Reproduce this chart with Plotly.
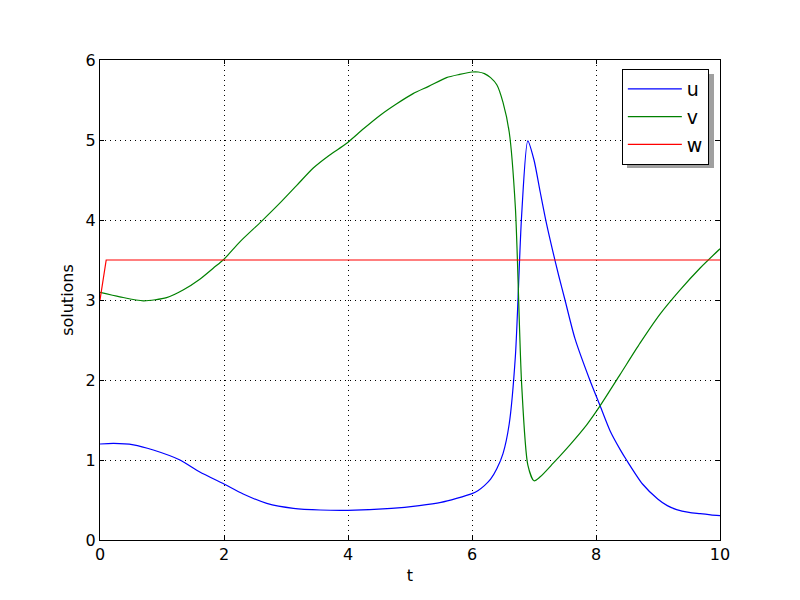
import plotly.graph_objects as go

t_u = [0.0, 0.22, 0.54, 0.86, 1.29, 1.61, 2.0, 2.31, 2.69, 3.12, 3.55, 4.0, 4.7, 5.15, 5.5, 5.75, 6.0, 6.1, 6.2, 6.3, 6.4, 6.5, 6.6, 6.7, 6.8, 6.9, 7.0, 7.1, 7.2, 7.3, 7.4, 7.5, 7.66, 7.9, 8.06, 8.23, 8.39, 8.5, 8.75, 9.0, 9.15, 9.3, 9.5, 9.68, 9.85, 10.0]
u = [1.20, 1.208, 1.19, 1.125, 1.00, 0.85, 0.70, 0.575, 0.458, 0.396, 0.375, 0.371, 0.395, 0.43, 0.47, 0.52, 0.58, 0.62, 0.68, 0.76, 0.89, 1.08, 1.45, 2.30, 4.05, 4.99, 4.75, 4.35, 3.96, 3.62, 3.30, 3.00, 2.52, 2.00, 1.69, 1.36, 1.13, 0.99, 0.70, 0.51, 0.43, 0.38, 0.345, 0.33, 0.315, 0.305]

t_v = [0.0, 0.32, 0.7, 1.075, 1.34, 1.61, 1.83, 2.0, 2.26, 2.6, 2.9, 3.17, 3.44, 3.7, 3.98, 4.25, 4.52, 4.78, 5.05, 5.3, 5.59, 5.8, 6.0, 6.1, 6.2, 6.3, 6.4, 6.5, 6.6, 6.7, 6.8, 6.9, 7.0, 7.1, 7.31, 7.58, 7.85, 8.06, 8.39, 8.71, 9.03, 9.35, 9.68, 10.0]
v = [3.096, 3.04, 2.99, 3.03, 3.125, 3.26, 3.40, 3.51, 3.73, 3.98, 4.21, 4.43, 4.65, 4.81, 4.96, 5.14, 5.31, 5.45, 5.58, 5.67, 5.78, 5.82, 5.85, 5.85, 5.83, 5.78, 5.69, 5.47, 5.10, 4.15, 1.96, 0.94, 0.74, 0.79, 0.96, 1.19, 1.44, 1.67, 2.07, 2.46, 2.82, 3.12, 3.40, 3.64]

t_w = [0.0, 0.1, 10.0]
w = [3.0, 3.5, 3.5]

series = [("u", t_u, u, "#0000ff"), ("v", t_v, v, "#008000"), ("w", t_w, w, "#ff0000")]

FONT = "DejaVu Sans"
OFF = 8  # page body margin

fig = go.Figure()
for name, tt, yy, col in series:
    if name == "w":
        ln = dict(color=col, width=1.2)
    else:
        ln = dict(color=col, width=1.2, shape="spline", smoothing=0.7)
    fig.add_trace(go.Scatter(x=tt, y=yy, mode="lines", name=name, line=ln))

axis_common = dict(
    showline=True, linecolor="black", linewidth=1, mirror="allticks",
    ticks="inside", ticklen=4, tickcolor="black",
    showgrid=True, gridcolor="black", gridwidth=0.7, griddash="1px,4px",
    zeroline=False, tickfont=dict(family=FONT, size=16, color="black"),
)

fig.update_layout(
    width=800, height=600,
    paper_bgcolor="white", plot_bgcolor="white",
    margin=dict(l=100 - OFF, r=80 + OFF, t=60 - OFF, b=60 + OFF, autoexpand=False),
    font=dict(family=FONT, color="black"),
    xaxis=dict(range=[0, 10], dtick=2, title=dict(text="t", font=dict(family=FONT, size=16), standoff=6), **axis_common),
    yaxis=dict(range=[0, 6], dtick=1, title=dict(text="solutions", font=dict(family=FONT, size=16), standoff=8), **axis_common),
    legend=dict(x=0.982, y=0.981, xanchor="right", yanchor="top",
                bgcolor="white", bordercolor="black", borderwidth=1,
                font=dict(family=FONT, size=19), tracegroupgap=0,
                itemwidth=54),
    showlegend=True,
)

# legend drop shadow
fig.add_shape(type="rect", xref="paper", yref="paper",
              x0=(627 - 100) / 620, x1=(714 - 100) / 620,
              y0=(540 - 168) / 480, y1=(540 - 74) / 480,
              fillcolor="#a0a0a0", line=dict(width=0), layer="above")

fig.write_html("out.html")
